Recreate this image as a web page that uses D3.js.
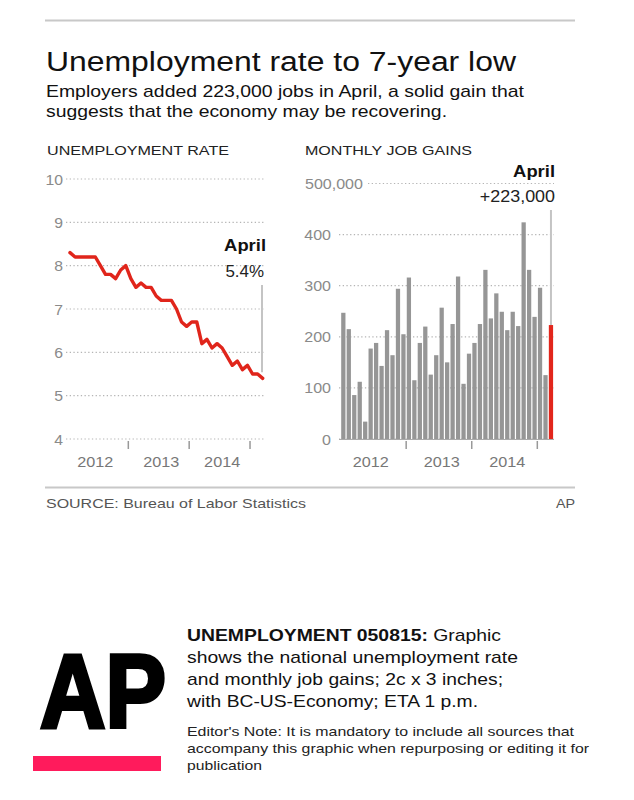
<!DOCTYPE html>
<html><head><meta charset="utf-8">
<script src="https://cdn.jsdelivr.net/npm/d3@7"></script>
<style>
body{margin:0;background:#fff;}
svg{display:block;font-family:"Liberation Sans",Arial,Helvetica,sans-serif;}
</style>
</head><body>
<svg id="chart" width="634" height="800"></svg>
<script>
// ---------------- DATA ----------------
const months = [
  "2012-02","2012-03","2012-04","2012-05","2012-06","2012-07","2012-08","2012-09","2012-10","2012-11","2012-12",
  "2013-01","2013-02","2013-03","2013-04","2013-05","2013-06","2013-07","2013-08","2013-09","2013-10","2013-11","2013-12",
  "2014-01","2014-02","2014-03","2014-04","2014-05","2014-06","2014-07","2014-08","2014-09","2014-10","2014-11","2014-12",
  "2015-01","2015-02","2015-03","2015-04"
];
const unemploymentRate = [
  8.3, 8.2, 8.2, 8.2, 8.2, 8.2, 8.0, 7.8, 7.8, 7.7, 7.9,
  8.0, 7.7, 7.5, 7.6, 7.5, 7.5, 7.3, 7.2, 7.2, 7.2, 7.0, 6.7,
  6.6, 6.7, 6.7, 6.2, 6.3, 6.1, 6.2, 6.1, 5.9, 5.7, 5.8, 5.6,
  5.7, 5.5, 5.5, 5.4
];
const jobGains = [ // thousands
  247, 215, 86, 112, 34, 177, 188, 143, 213, 164, 294,
  205, 316, 115, 188, 220, 126, 164, 257, 150, 225, 318, 108,
  167, 188, 225, 331, 236, 285, 249, 213, 249, 221, 424, 331,
  239, 296, 125, 223
];
const rateTicks = [4, 5, 6, 7, 8, 9, 10];
const jobTicks = [0, 100, 200, 300, 400, 500];
const jobTickLabels = ["0", "100", "200", "300", "400", "500,000"];
const yearLabels = ["2012", "2013", "2014"];
const yearLabelMonths = ["2012-07", "2013-08", "2014-08"];
const yearTickMonths = ["2013-02", "2014-02", "2015-02"];
const latestMonthName = "April";
const latestRateLabel = "5.4%";
const latestJobsLabel = "+223,000";

// ---------------- HELPERS ----------------
const svg = d3.select("#chart");
function label(parent, str, x, y, o = {}) {
  const t = parent.append("text")
    .attr("font-size", o.size || 14)
    .attr("font-weight", o.weight || "normal")
    .attr("fill", o.fill || "#111")
    .attr("text-anchor", o.anchor || "start")
    .text(str);
  if (o.width) {
    t.attr("x", x).attr("y", y)
     .attr("textLength", o.width).attr("lengthAdjust", "spacingAndGlyphs");
  } else {
    t.attr("transform", `translate(${x},${y}) scale(${o.sx || 1},1)`);
  }
  return t;
}
const gridColor = "#b5b5b5";
const axisText = "#8a8a8a";

// ---------------- HEADER ----------------
svg.append("line").attr("x1", 45).attr("x2", 575).attr("y1", 20.5).attr("y2", 20.5)
  .attr("stroke", "#c8c8c8").attr("stroke-width", 2);
label(svg, "Unemployment rate to 7-year low", 46, 71, {size: 27, width: 470});
label(svg, "Employers added 223,000 jobs in April, a solid gain that", 46, 97, {size: 17, width: 478});
label(svg, "suggests that the economy may be recovering.", 46, 117, {size: 17, width: 401});

// ---------------- LEFT: UNEMPLOYMENT RATE ----------------
const L = svg.append("g");
label(L, "UNEMPLOYMENT RATE", 47, 155, {size: 13.5, width: 182, fill: "#222"});
const idx = d3.range(months.length);
const xL = d3.scaleLinear().domain([0, months.length - 1]).range([70, 262.7]);
const yL = d3.scaleLinear().domain([4, 10]).range([439, 179]);

L.selectAll(".gl").data(rateTicks).join("line")
  .attr("x1", 66).attr("x2", 265)
  .attr("y1", d => yL(d)).attr("y2", d => yL(d))
  .attr("stroke", gridColor).attr("stroke-width", 1.2).attr("stroke-dasharray", "1.3,2.4");
rateTicks.forEach(d => label(L, String(d), 63, yL(d) + 5.5, {size: 15, anchor: "end", fill: axisText, sx: 1.05}));

const mIndex = m => months.indexOf(m);
yearTickMonths.forEach(m => {
  const x = xL(mIndex(m) - 0.5);
  L.append("line").attr("x1", x).attr("x2", x).attr("y1", 441).attr("y2", 449)
    .attr("stroke", "#999").attr("stroke-width", 1.5);
});
yearLabels.forEach((y, i) => label(L, y, xL(mIndex(yearLabelMonths[i])), 467,
  {size: 15, anchor: "middle", fill: "#777", sx: 1.08}));

// annotation
const lastI = months.length - 1;
L.append("line").attr("x1", xL(lastI) - 0.7).attr("x2", xL(lastI) - 0.7)
  .attr("y1", 285).attr("y2", yL(unemploymentRate[lastI]) - 6)
  .attr("stroke", "#c4c4c4").attr("stroke-width", 2);
label(L, latestMonthName, 266, 251, {size: 16, weight: "bold", anchor: "end", sx: 1.15});
label(L, latestRateLabel, 264, 277, {size: 16, anchor: "end", fill: "#222", sx: 1.06});

L.append("path").datum(idx)
  .attr("d", d3.line().x(i => xL(i)).y(i => yL(unemploymentRate[i])))
  .attr("fill", "none").attr("stroke", "#e0251b").attr("stroke-width", 3.4)
  .attr("stroke-linejoin", "round").attr("stroke-linecap", "round");

// ---------------- RIGHT: MONTHLY JOB GAINS ----------------
const R = svg.append("g");
label(R, "MONTHLY JOB GAINS", 305, 155, {size: 13.5, width: 167, fill: "#222"});
const xR = d3.scaleBand().domain(months).range([340.6, 553.7]).paddingInner(0.22).paddingOuter(0.11);
const yR = d3.scaleLinear().domain([0, 500]).range([439, 183.5]);

R.selectAll(".gl").data(jobTicks).join("line")
  .attr("x1", d => d === 500 ? 368 : 339).attr("x2", 554)
  .attr("y1", d => yR(d)).attr("y2", d => yR(d))
  .attr("stroke", gridColor).attr("stroke-width", 1.2).attr("stroke-dasharray", "1.3,2.4");
jobTicks.forEach((d, i) => {
  if (d === 500) label(R, jobTickLabels[i], 305, yR(d) + 5.5, {size: 15, fill: axisText, sx: 1.07});
  else label(R, jobTickLabels[i], 331, yR(d) + 5.5, {size: 15, anchor: "end", fill: axisText, sx: 1.07});
});

const bandC = m => xR(m) + xR.bandwidth() / 2;
R.append("line").attr("x1", 339).attr("x2", 554).attr("y1", 439.5).attr("y2", 439.5)
  .attr("stroke", "#aaa").attr("stroke-width", 1);
yearTickMonths.forEach(m => {
  const x = xR(m) - xR.step() * xR.paddingInner() / 2;
  R.append("line").attr("x1", x).attr("x2", x).attr("y1", 441).attr("y2", 449)
    .attr("stroke", "#999").attr("stroke-width", 1.5);
});
yearLabels.forEach((y, i) => label(R, y, bandC(yearLabelMonths[i]), 467,
  {size: 15, anchor: "middle", fill: "#777", sx: 1.08}));

const lastM = months[lastI];
R.append("line").attr("x1", bandC(lastM)).attr("x2", bandC(lastM))
  .attr("y1", 210).attr("y2", yR(jobGains[lastI]))
  .attr("stroke", "#c4c4c4").attr("stroke-width", 2);

R.selectAll(".bar").data(idx).join("rect")
  .attr("x", i => xR(months[i])).attr("width", xR.bandwidth())
  .attr("y", i => yR(jobGains[i])).attr("height", i => yR(0) - yR(jobGains[i]))
  .attr("fill", i => i === lastI ? "#e2261c" : "#969696");

label(R, latestMonthName, 555, 177, {size: 16, weight: "bold", anchor: "end", sx: 1.15});
label(R, latestJobsLabel, 555, 202, {size: 16, anchor: "end", fill: "#222", sx: 1.12});

// ---------------- FOOTER ----------------
svg.append("line").attr("x1", 45).attr("x2", 575).attr("y1", 487.5).attr("y2", 487.5)
  .attr("stroke", "#c8c8c8").attr("stroke-width", 2);
label(svg, "SOURCE: Bureau of Labor Statistics", 46, 508, {size: 13, width: 260, fill: "#555"});
label(svg, "AP", 575, 508, {size: 13, anchor: "end", fill: "#555", sx: 1.1});

// AP logo block
label(svg, "AP", 40, 727, {size: 104, weight: "bold", width: 126, fill: "#000"})
  .attr("stroke", "#000").attr("stroke-width", 4).attr("stroke-linejoin", "miter");
svg.append("rect").attr("x", 33).attr("y", 756).attr("width", 128).attr("height", 15).attr("fill", "#ff1b5c");

const note = svg.append("g");
const t1 = note.append("text").attr("x", 187).attr("y", 641).attr("font-size", 17).attr("fill", "#111")
  .attr("textLength", 314).attr("lengthAdjust", "spacingAndGlyphs");
t1.append("tspan").attr("font-weight", "bold").text("UNEMPLOYMENT 050815:");
t1.append("tspan").text(" Graphic");
label(note, "shows the national unemployment rate", 187, 663, {size: 17, width: 331});
label(note, "and monthly job gains; 2c x 3 inches;", 187, 685, {size: 17, width: 316});
label(note, "with BC-US-Economy; ETA 1 p.m.", 187, 707, {size: 17, width: 291});
label(note, "Editor's Note: It is mandatory to include all sources that", 187, 736, {size: 13, width: 387, fill: "#222"});
label(note, "accompany this graphic when repurposing or editing it for", 187, 753, {size: 13, width: 402, fill: "#222"});
label(note, "publication", 187, 770, {size: 13, width: 75, fill: "#222"});
</script>
</body></html>
